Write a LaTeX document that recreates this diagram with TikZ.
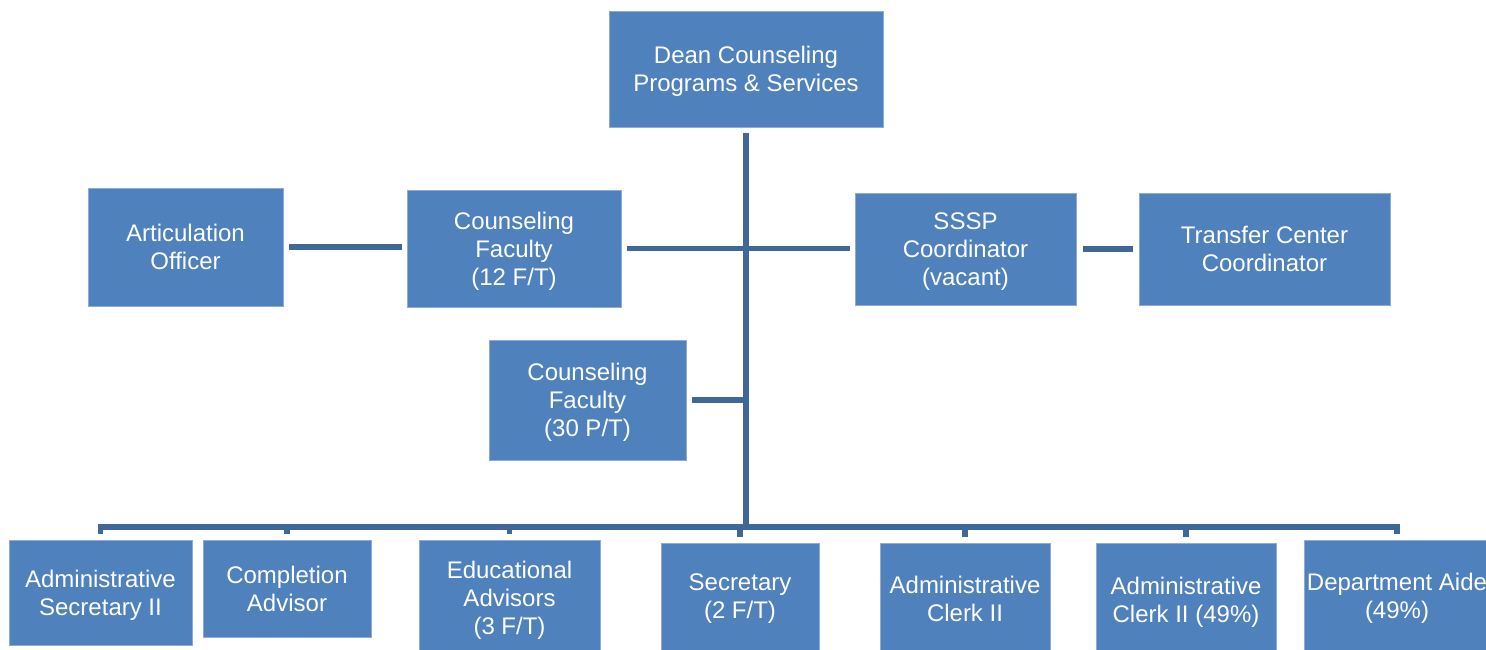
\documentclass[tikz,border=0pt]{standalone}
\usepackage{fontspec}
\setmainfont{Liberation Sans}
\definecolor{boxblue}{HTML}{4F81BD}
\definecolor{lineblue}{HTML}{3F6797}
\definecolor{boxedge}{HTML}{8EAADB}
\begin{document}
\begin{tikzpicture}[x=1pt,y=-1pt,
  box/.style={rectangle, fill=boxblue, draw=boxedge, line width=0.6pt, text=white,
    align=center, font=\fontsize{24}{28}\selectfont, inner sep=0pt, text depth=-3pt},
  conn/.style={draw=lineblue, line width=5.5pt}]
\useasboundingbox (0,0) rectangle (1486,649);
\clip (0,0) rectangle (1486,649);
% top
\node[box, minimum width=274pt, minimum height=116pt] (dean) at (746,69) {Dean Counseling\\Programs \& Services};
% middle row
\node[box, minimum width=195pt, minimum height=118pt] (art) at (185.5,247) {Articulation\\Officer};
\node[box, minimum width=214pt, minimum height=117pt] (cf12) at (514,248.5) {Counseling\\Faculty\\(12 F/T)};
\node[box, minimum width=221pt, minimum height=112pt] (sssp) at (965.5,249) {SSSP\\Coordinator\\(vacant)};
\node[box, minimum width=251pt, minimum height=112pt] (transfer) at (1264.5,249) {Transfer Center\\Coordinator};
\node[box, minimum width=197pt, minimum height=120pt] (cf30) at (587.5,400) {Counseling\\Faculty\\(30 P/T)};
% bottom row
\node[box, minimum width=183pt, minimum height=105pt] (admsec) at (100.5,592.5) {Administrative\\Secretary II};
\node[box, minimum width=168pt, minimum height=97pt] (compl) at (287,588.5) {Completion\\Advisor};
\node[box, minimum width=181pt, minimum height=116pt] (edadv) at (509.5,598) {Educational\\Advisors\\(3 F/T)};
\node[box, minimum width=158pt, minimum height=107pt] (secr) at (740,596.5) {Secretary\\(2 F/T)};
\node[box, minimum width=170pt, minimum height=111pt] (clerk) at (965,598.5) {Administrative\\Clerk II};
\node[box, minimum width=180pt, minimum height=113pt] (clerkh) at (1186,599.5) {Administrative\\Clerk II (49\%)};
\node[box, minimum width=186pt, minimum height=111pt] (aide) at (1397,595.5) {Department Aide\\(49\%)};
% connectors
\coordinate (busL) at (100.5,527);
\draw[conn, shorten <=6pt] (dean.south) -- ([yshift=-2.5pt]dean.south |- busL);
\draw[conn, shorten <=6pt, shorten >=5pt] (cf12.east) -- (cf12.east -| sssp.west);
\draw[conn, shorten <=6pt, shorten >=5pt] (art.east) -- (art.east -| cf12.west);
\draw[conn, shorten <=7pt, shorten >=6pt] (sssp.east) -- (sssp.east -| transfer.west);
\draw[conn, shorten <=6pt] (cf30.east) -- (cf30.east -| dean.south);
\draw[conn, shorten <=6pt, shorten >=6pt] (admsec.north) -- (admsec.north |- busL) -- (aide.north |- busL) -- (aide.north);
\foreach \n in {compl,edadv,secr,clerk,clerkh}
  \draw[conn, shorten >=6pt] (\n.north |- busL) -- (\n.north);
\end{tikzpicture}
\end{document}
